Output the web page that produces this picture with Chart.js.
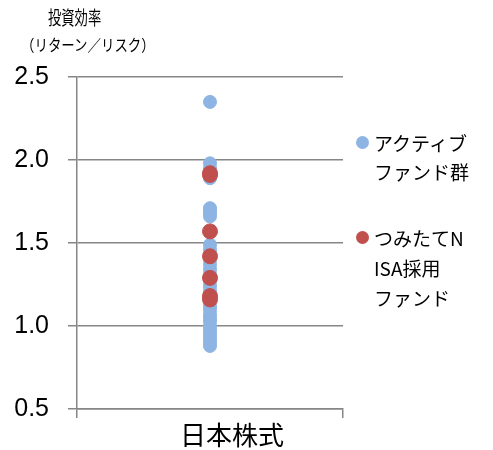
<!DOCTYPE html>
<html>
<head>
<meta charset="utf-8">
<script src="https://cdn.jsdelivr.net/npm/chart.js@4"></script>
<style>
  body { margin:0; background:#fff; font-family:"Liberation Sans","Noto Sans CJK JP",sans-serif; }
  #wrap { position:relative; width:493px; height:450px; }
  .txt { position:absolute; color:#000; white-space:nowrap; font-family:"Noto Sans CJK JP",sans-serif; }
  .narrow { transform-origin:0 0; }
  .dot { position:absolute; width:13px; height:13px; border-radius:50%; }
</style>
</head>
<body>
<div id="wrap">
  <canvas id="chart" width="493" height="450"></canvas>
  <div class="txt narrow" style="left:48px;top:3px;font-size:19px;transform:scaleX(0.7);">投資効率</div>
  <div class="txt narrow" style="left:21px;top:32px;font-size:16px;transform:scaleX(0.84);">（リターン／リスク）</div>

  <div class="dot" style="left:356px;top:136px;background:#8db4e2;"></div>
  <div class="txt" style="left:374px;top:128px;font-size:19px;line-height:29px;">アクティブ<br>ファンド群</div>
  <div class="dot" style="left:356px;top:231px;background:#c0504d;"></div>
  <div class="txt" style="left:374px;top:223px;font-size:19px;line-height:30px;">つみたてN<br>ISA採用<br>ファンド</div>
</div>
<script>
// categories / tick labels
const categories = ["日本株式"];
const yTicks = [0.5, 1.0, 1.5, 2.0, 2.5];

// return / risk per fund
const activeFunds = [2.35, 1.98, 1.95, 1.89, 1.71, 1.70, 1.68, 1.66, 1.49, 1.46, 1.43, 1.40,
  1.37, 1.34, 1.31, 1.27, 1.24, 1.21, 1.19, 1.15, 1.12, 1.10, 1.07, 1.05, 1.03, 1.00,
  0.98, 0.96, 0.94, 0.92, 0.90, 0.88];
const tsumitateFunds = [1.92, 1.91, 1.57, 1.42, 1.29, 1.18, 1.16];

const toPoints = vals => vals.map(v => ({ x: categories[0], y: v }));

new Chart(document.getElementById("chart"), {
  type: "scatter",
  data: {
    labels: categories,
    datasets: [
      { label: "アクティブファンド群", data: toPoints(activeFunds), order: 2,
        backgroundColor: "#8db4e2", borderColor: "#8db4e2", pointRadius: 6.5, pointHoverRadius: 6.5 },
      { label: "つみたてNISA採用ファンド", data: toPoints(tsumitateFunds), order: 1,
        backgroundColor: "#c0504d", borderColor: "#c0504d", pointRadius: 7.5, pointHoverRadius: 7.5 }
    ]
  },
  options: {
    responsive: false,
    animation: false,
    layout: { padding: { top: 77, right: 150, left: 0, bottom: 0 } },
    plugins: { legend: { display: false }, tooltip: { enabled: false } },
    scales: {
      x: {
        type: "category",
        labels: categories,
        offset: true,
        afterFit: s => { s.height = 41; },
        grid: { offset: true, drawOnChartArea: false, color: "#868686", lineWidth: 1.5, tickLength: 9 },
        border: { color: "#868686", width: 1.5 },
        ticks: { color: "#000", padding: 2, labelOffset: 22, font: { size: 26, family: "'Noto Sans CJK JP'" } }
      },
      y: {
        min: 0.5, max: 2.5,
        afterFit: s => { s.width = 77; },
        afterBuildTicks: s => { s.ticks = yTicks.map(v => ({ value: v })); },
        grid: { color: "#868686", lineWidth: 1.5, tickLength: 9 },
        border: { color: "#868686", width: 1.5 },
        ticks: { color: "#000", padding: 19, font: { size: 25, family: "'Liberation Sans'" },
          callback: v => Number(v).toFixed(1) }
      }
    }
  }
});
</script>
</body>
</html>
